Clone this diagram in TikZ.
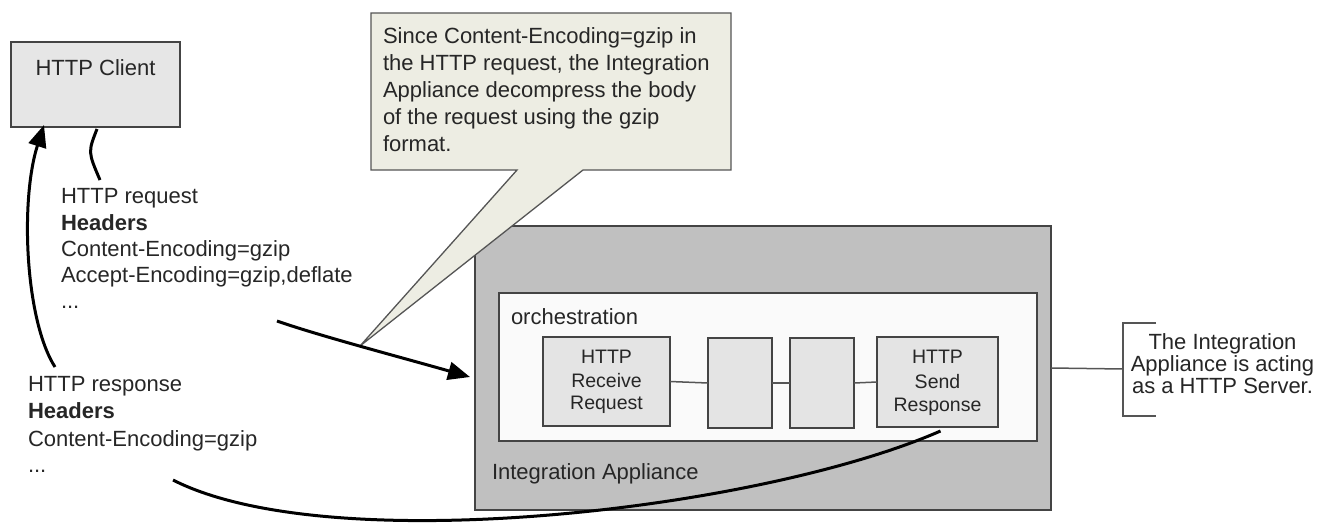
\documentclass[tikz,border=0pt]{standalone}
\usepackage{fontspec}
\setmainfont{Liberation Sans}
\usetikzlibrary{arrows.meta,calc}
\definecolor{txt}{HTML}{262626}
\definecolor{edge}{HTML}{444444}
\definecolor{edgetwo}{HTML}{555555}
\definecolor{clientfill}{HTML}{E6E6E6}
\definecolor{applfill}{HTML}{C0C0C0}
\definecolor{orchfill}{HTML}{FAFAFA}
\definecolor{innerfill}{HTML}{E4E4E4}
\definecolor{notefill}{HTML}{EDEDE3}
\begin{document}
\begin{tikzpicture}[x=1pt,y=-1pt,
  every node/.style={inner sep=0pt, outer sep=0pt, text=txt, font=\fontsize{22}{26}\selectfont},
  box/.style={draw=edge, line width=1.5pt},
  inner/.style={draw=edge, line width=1.5pt, fill=innerfill},
  ln/.style={anchor=base west},
  cl/.style={anchor=base},
  small/.style={anchor=base, font=\fontsize{19.5}{23}\selectfont},
  flow/.style={line width=3pt, draw=black},
  tip/.style={-{Triangle[length=22pt,width=18pt]}},
  thinline/.style={draw=edgetwo, line width=1.5pt},
]
\useasboundingbox (0,0) rectangle (1332,525);

% HTTP client
\node[box, fill=clientfill, minimum width=169pt, minimum height=85pt] (client) at (95.5,84.5) {};
\node[cl] (clientlbl) at (95.5,75) {HTTP Client};

% request text
\node[ln] (rq1) at (61,203) {HTTP request};
\node[ln] (rq2) at (61,230) {\bfseries Headers};
\node[ln] (rq3) at (61,256) {Content-Encoding=gzip};
\node[ln] (rq4) at (61,282) {Accept-Encoding=gzip,deflate};
\node[ln] (rq5) at (61,308) {...};

% response text
\node[ln] (rs1) at (28,391) {HTTP response};
\node[ln] (rs2) at (28,418) {\bfseries Headers};
\node[ln] (rs3) at (28,446) {Content-Encoding=gzip};
\node[ln] (rs4) at (28,472) {...};

% Integration appliance
\node[box, fill=applfill, minimum width=576pt, minimum height=284pt] (appl) at (763,368) {};
\node[ln] (appllbl) at (492,479) {Integration Appliance};
\node[box, fill=orchfill, minimum width=538pt, minimum height=148pt] (orch) at (768,367) {};
\node[ln] (orchlbl) at (511,324) {orchestration};

\node[inner, minimum width=127pt, minimum height=89pt] (rcv) at (606.5,381.5) {};
\node[inner, minimum width=64pt, minimum height=90pt] (b2) at (740,383) {};
\node[inner, minimum width=64pt, minimum height=90pt] (b3) at (822,383) {};
\node[inner, minimum width=121pt, minimum height=90pt] (snd) at (937.5,382) {};
\node[small] (rcv1) at (606.5,363) {HTTP};
\node[small] (rcv2) at (606.5,387) {Receive};
\node[small] (rcv3) at (606.5,409) {Request};
\node[small] (snd1) at (937.5,363) {HTTP};
\node[small] (snd2) at (937.5,388) {Send};
\node[small] (snd3) at (937.5,411) {Response};

\draw[thinline] (rcv.east) -- (b2.west);
\draw[thinline] (b2.east) -- (b3.west);
\draw[thinline] (b3.east) -- (snd.west);

% server annotation
\coordinate (brk) at (1123,369);
\draw[thinline] (appl.east) -- (brk);
\draw[thinline] ([shift={(33,-46)}]brk) -- ([shift={(0,-46)}]brk) -- ([shift={(0,47)}]brk) -- ([shift={(33,47)}]brk);
\node[cl] (srv1) at (1222.5,349) {The Integration};
\node[cl] (srv2) at (1222.5,371) {Appliance is acting};
\node[cl] (srv3) at (1222.5,393) {as a HTTP Server.};

% callout
\coordinate (cotip) at (360,346);
\filldraw[fill=notefill, draw=edgetwo, line width=1.3pt]
  (371,13) -- (731,13) -- (731,170) -- (583,170) -- (cotip) -- (517,170) -- (371,170) -- cycle;
\node[ln] (n1) at (383,43) {Since Content-Encoding=gzip in};
\node[ln] (n2) at (383,70.2) {the HTTP request, the Integration};
\node[ln] (n3) at (383,97.4) {Appliance decompress the body};
\node[ln] (n4) at (383,124.6) {of the request using the gzip};
\node[ln] (n5) at (383,151.8) {format.};

% flows
\coordinate (c1s) at (97,129);
\coordinate (c1e) at (100,180);
\draw[flow] (c1s) .. controls (88,152) .. (c1e);

\coordinate (rqs) at (277,321);
\coordinate (rqe) at (470,377);
\draw[flow, tip] (rqs) .. controls (320,336) and (400,357) .. (rqe);

\coordinate (sps) at ($(snd.south)+(3,4)$);
\coordinate (rse) at (173,480);
\draw[flow] (sps) .. controls (760,510) and (330,560) .. (rse);

\coordinate (rss) at (55,367);
\coordinate (cle) at ($(client.south west)+(33,-2)$);
\draw[flow, tip] (rss) .. controls (25,320) and (20,200) .. (cle);
\end{tikzpicture}
\end{document}
